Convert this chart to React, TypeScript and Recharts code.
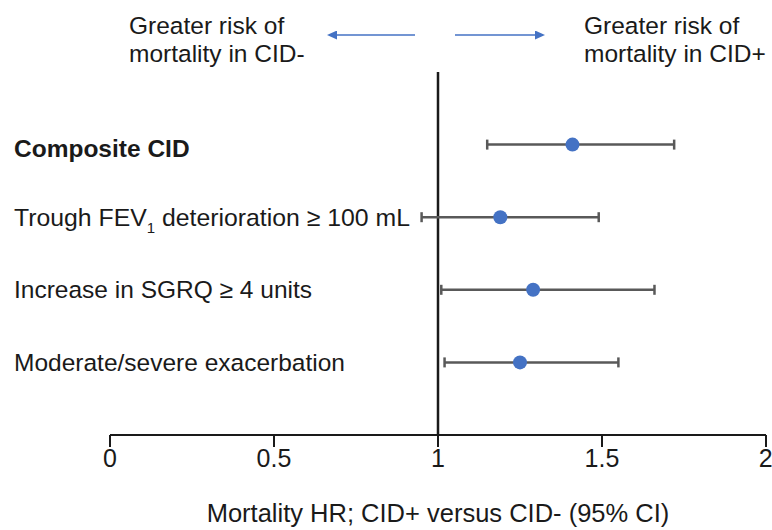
import * as React from 'react';
import { ScatterChart, Scatter, XAxis, YAxis, ReferenceLine, ErrorBar, Label } from 'recharts';

const categories = [
    'Composite CID',
    'Trough FEV1 deterioration ≥ 100 mL',
    'Increase in SGRQ ≥ 4 units',
    'Moderate/severe exacerbation',
];
const hr = [1.41, 1.19, 1.29, 1.25];
const lowerCI = [1.15, 0.95, 1.01, 1.02];
const upperCI = [1.72, 1.49, 1.66, 1.55];
const rowPos = [4, 3, 2, 1];
const xTicks = [0, 0.5, 1, 1.5, 2];

const FONT = '"Liberation Sans", Arial, sans-serif';
const BLUE = '#4472C4';
const TEXT = '#1a1a1a';

const data = categories.map((name, i) => ({
    name,
    hr: hr[i],
    row: rowPos[i],
    err: [hr[i] - lowerCI[i], upperCI[i] - hr[i]],
}));

const CategoryTick = (props: any) => {
    const { y, payload } = props;
    const idx = rowPos.indexOf(payload.value);
    if (idx < 0) return null;
    const name = categories[idx];
    if (idx === 0) {
        return (
            <text x={14} y={y + 4} dy="0.35em" fontFamily={FONT} fontSize={24.5} fontWeight="bold" fill={TEXT}>{name}</text>
        );
    }
    if (idx === 1) {
        return (
            <text x={14} y={y} dy="0.35em" fontFamily={FONT} fontSize={24.8} fill={TEXT}>
                Trough FEV<tspan fontSize={15} dy={7}>1</tspan><tspan dy={-7}> deterioration ≥ 100 mL</tspan>
            </text>
        );
    }
    return (
        <text x={14} y={y} dy="0.35em" fontFamily={FONT} fontSize={24.5} fill={TEXT}>{name}</text>
    );
};

const Dot = (props: any) => <circle cx={props.cx} cy={props.cy} r={7} fill={BLUE} />;

export default function App() {
    return (
        <div style={{ position: 'absolute', left: 0, top: 0, width: 772, height: 530, background: '#fff' }}>
            <ScatterChart width={772} height={530} margin={{ top: 72, right: 6, bottom: 0, left: 0 }}>
                <XAxis
                    type="number"
                    dataKey="hr"
                    domain={[0, 2]}
                    ticks={xTicks}
                    tickSize={12}
                    height={95}
                    axisLine={{ stroke: TEXT, strokeWidth: 2 }}
                    tickLine={{ stroke: TEXT, strokeWidth: 2 }}
                    tick={{ fontFamily: FONT, fontSize: 25, fill: TEXT }}
                >
                    <Label value="Mortality HR; CID+ versus CID- (95% CI)" position="insideBottom" offset={8} style={{ fontFamily: FONT, fontSize: 25.5, fill: TEXT }} />
                </XAxis>
                <YAxis
                    type="number"
                    dataKey="row"
                    domain={[0, 5]}
                    ticks={rowPos}
                    width={110}
                    axisLine={false}
                    tickLine={false}
                    tick={<CategoryTick />}
                />
                <ReferenceLine x={1} stroke={TEXT} strokeWidth={2.5} />
                <Scatter data={data} shape={<Dot />} isAnimationActive={false}>
                    <ErrorBar dataKey="err" direction="x" width={5} stroke="#595959" strokeWidth={2.5} />
                </Scatter>
            </ScatterChart>
            <svg width={772} height={80} style={{ position: 'absolute', left: 0, top: 0 }}>
                <defs>
                    <marker id="arrowHead" markerWidth="10" markerHeight="9" refX="8" refY="4.5" orient="auto" markerUnits="userSpaceOnUse">
                        <path d="M0,0 L10,4.5 L0,9 z" fill={BLUE} />
                    </marker>
                </defs>
                <text x={129} y={34} fontFamily={FONT} fontSize={24.5} fill={TEXT}>Greater risk of</text>
                <text x={129} y={62} fontFamily={FONT} fontSize={24.5} fill={TEXT}>mortality in CID-</text>
                <text x={584} y={34} fontFamily={FONT} fontSize={24.5} fill={TEXT}>Greater risk of</text>
                <text x={584} y={62} fontFamily={FONT} fontSize={24.5} fill={TEXT}>mortality in CID+</text>
                <line x1={415} y1={35} x2={329} y2={35} stroke={BLUE} strokeWidth={1.5} markerEnd="url(#arrowHead)" />
                <line x1={455} y1={35} x2={543} y2={35} stroke={BLUE} strokeWidth={1.5} markerEnd="url(#arrowHead)" />
            </svg>
        </div>
    );
}
